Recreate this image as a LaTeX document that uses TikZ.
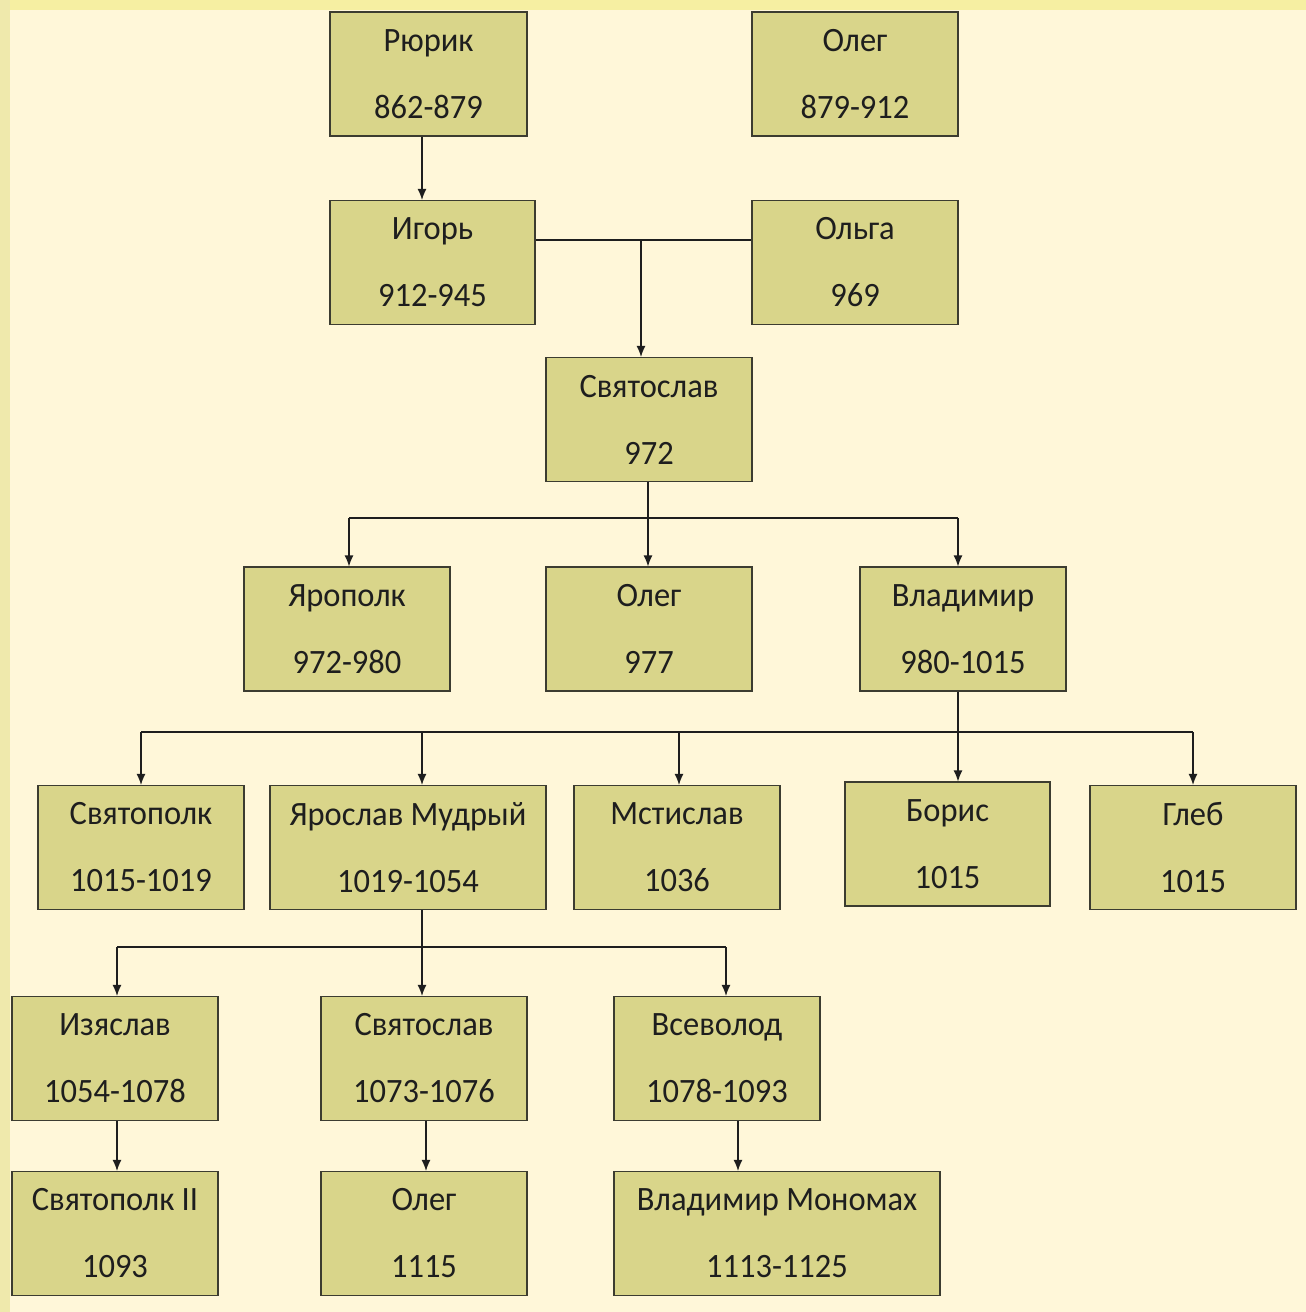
\documentclass[tikz,border=0pt]{standalone}
\usepackage{fontspec}
\setmainfont{Carlito}
\usepackage{graphicx}
\usetikzlibrary{arrows.meta,calc}
\definecolor{bg}{HTML}{FFF7D9}
\definecolor{bandtop}{HTML}{F6EFA2}
\definecolor{bandleft}{HTML}{EFE9AC}
\definecolor{boxfill}{HTML}{D9D58A}
\definecolor{boxline}{HTML}{3C3C30}
\definecolor{ink}{HTML}{1E1E1E}
\newcommand{\tl}[2]{\scalebox{1}[1.05]{#1}\\\scalebox{1}[1.05]{#2}}
\begin{document}
\begin{tikzpicture}[x=1pt,y=-1pt,
 pbox/.style={draw=boxline, line width=1.2pt, fill=boxfill, minimum height=124pt, minimum width=206pt, inner sep=0pt, align=center, font=\fontsize{32.5}{67}\selectfont, text=ink},
 conn/.style={draw=ink, line width=1.2pt},
 arr/.style={conn, -{Latex[length=11pt,width=9pt]}}]
% background
\fill[bg] (0,0) rectangle (1306,1312);
\fill[bandtop] (0,0) rectangle (1306,10);
\fill[bandleft] (0,0) rectangle (10,1312);
\useasboundingbox (0,0) rectangle (1306,1312);

% nodes
\node[pbox, minimum width=197pt] (rurik) at (428.5,74) {\tl{Рюрик}{862-879}};
\node[pbox] (oleg1) at (855,74) {\tl{Олег}{879-912}};
\node[pbox, minimum width=205pt] (igor) at (432.5,262.5) {\tl{Игорь}{912-945}};
\node[pbox] (olga) at (855,262.5) {\tl{Ольга}{969}};
\node[pbox] (svyat) at (649,419.5) {\tl{Святослав}{972}};
\node[pbox] (yaropolk) at (347,629) {\tl{Ярополк}{972-980}};
\node[pbox] (oleg2) at (649,629) {\tl{Олег}{977}};
\node[pbox] (vlad) at (963,629) {\tl{Владимир}{980-1015}};
\node[pbox] (svyatopolk) at (141,847.5) {\tl{Святополк}{1015-1019}};
\node[pbox, minimum width=276pt] (yaroslav) at (408,847.5) {\tl{Ярослав Мудрый}{1019-1054}};
\node[pbox] (mstislav) at (677,847.5) {\tl{Мстислав}{1036}};
\node[pbox, minimum width=205pt] (boris) at (947.5,844) {\tl{Борис}{1015}};
\node[pbox] (gleb) at (1193,847.5) {\tl{Глеб}{1015}};
\node[pbox] (izyaslav) at (115,1058.5) {\tl{Изяслав}{1054-1078}};
\node[pbox] (svyat2) at (424,1058.5) {\tl{Святослав}{1073-1076}};
\node[pbox] (vsevolod) at (717,1058.5) {\tl{Всеволод}{1078-1093}};
\node[pbox] (svyatopolk2) at (115,1233.5) {\tl{Святополк II}{1093}};
\node[pbox] (oleg3) at (424,1233.5) {\tl{Олег}{1115}};
\node[pbox, minimum width=326pt] (monomakh) at (777,1233.5) {\tl{Владимир Мономах}{1113-1125}};

% junctions
\coordinate (jA) at (422,160);
\coordinate (j1) at (641,240);
\coordinate (j2) at (648,518);
\coordinate (j3) at (958,732);
\coordinate (j4) at (422,947);
\coordinate (jB) at (117,1140);
\coordinate (jC) at (426,1140);
\coordinate (jD) at (738,1140);

% connectors
\draw[arr] (rurik.south -| jA) -- (igor.north -| jA);
\draw[conn] (igor.east |- j1) -- (olga.west |- j1);
\draw[arr] (j1) -- (svyat.north -| j1);

\draw[conn] (svyat.south -| j2) -- (j2);
\draw[conn] ([xshift=2pt]yaropolk.north |- j2) -- ([xshift=-5pt]vlad.north |- j2);
\draw[arr] ([xshift=2pt]yaropolk.north |- j2) -- ([xshift=2pt]yaropolk.north);
\draw[arr] (j2) -- (oleg2.north -| j2);
\draw[arr] ([xshift=-5pt]vlad.north |- j2) -- ([xshift=-5pt]vlad.north);

\draw[arr] (vlad.south -| j3) -- (boris.north -| j3);
\draw[conn] (svyatopolk.north |- j3) -- (gleb.north |- j3);
\draw[arr] (svyatopolk.north |- j3) -- (svyatopolk.north);
\draw[arr] (jA |- j3) -- (yaroslav.north -| jA);
\draw[arr] ([xshift=2pt]mstislav.north |- j3) -- ([xshift=2pt]mstislav.north);
\draw[arr] (gleb.north |- j3) -- (gleb.north);

\draw[arr] (yaroslav.south -| j4) -- (svyat2.north -| j4);
\draw[conn] ([xshift=2pt]izyaslav.north |- j4) -- ([xshift=9pt]vsevolod.north |- j4);
\draw[arr] ([xshift=2pt]izyaslav.north |- j4) -- ([xshift=2pt]izyaslav.north);
\draw[arr] ([xshift=9pt]vsevolod.north |- j4) -- ([xshift=9pt]vsevolod.north);

\draw[arr] (izyaslav.south -| jB) -- (svyatopolk2.north -| jB);
\draw[arr] (svyat2.south -| jC) -- (oleg3.north -| jC);
\draw[arr] (vsevolod.south -| jD) -- (monomakh.north -| jD);
\end{tikzpicture}
\end{document}
